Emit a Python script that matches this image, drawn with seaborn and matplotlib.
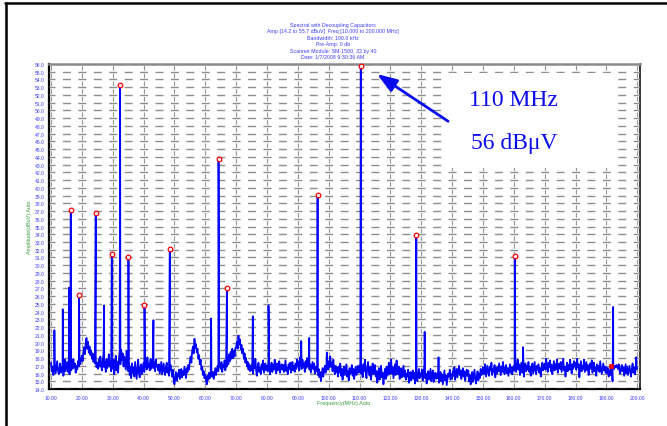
import numpy as np
import pandas as pd
import matplotlib
matplotlib.use("Agg")
import matplotlib.pyplot as plt
import seaborn as sns
from matplotlib.patches import Rectangle
from matplotlib.lines import Line2D

# ---------------- data ----------------
title_lines = [
    "Spectral with Decoupling Capacitors",
    "Amp [14.2 to 55.7 dBuV]  Freq [10.000 to 200.000 MHz]",
    "Bandwidth: 100.0 kHz",
    "Pre-Amp: 0 db",
    "Scanner Module: SM-1500, 32 by 40",
    "Date: 1/7/2008 9:30:36 AM",
]
x_label = "Frequency(MHz) Auto"
y_label = "Amplitude(dBuV) Auto"
x_ticks = list(range(10, 201, 10))
y_ticks = list(range(14, 57))
note_lines = ["110 MHz", "56 dB\u03bcV"]

freq_start = 10.0
freq_step = 0.25
noise_db = [
    17.4, 16.3, 16.9, 15.8, 16.6, 17.2, 16.0, 16.8, 17.6, 16.4, 15.9, 16.7, 17.3, 16.1, 16.5, 17.0, 15.7, 16.6, 17.8, 16.3,
    16.9, 17.5, 16.2, 16.8, 15.9, 17.1, 16.4, 17.7, 16.6, 17.9, 16.8, 17.3, 16.1, 17.0, 16.5, 17.6, 16.9, 18.0, 17.2, 17.7,
    18.3, 17.6, 18.8, 19.4, 18.5, 19.9, 20.6, 19.2, 20.1, 18.7, 19.5, 18.4, 19.0, 17.9, 18.6, 17.5, 18.2, 17.3, 17.9, 16.8,
    17.4, 16.6, 17.8, 16.9, 18.2, 17.1, 16.4, 17.7, 18.4, 16.8, 17.5, 16.2, 17.9, 16.7, 17.3, 18.5, 16.9, 17.6, 16.3, 17.2,
    16.6, 17.8, 15.9, 17.0, 18.3, 16.4, 17.5, 16.1, 17.9, 18.8, 17.2, 19.1, 17.8, 18.6, 16.9, 18.2, 17.4, 16.5, 18.9, 17.1,
    16.3, 17.6, 15.8, 16.9, 15.4, 17.3, 16.1, 16.8, 15.6, 17.5, 16.4, 15.3, 16.7, 17.8, 16.0, 15.5, 16.9, 17.2, 15.9, 16.6,
    17.4, 16.2, 16.9, 17.7, 16.5, 18.1, 16.8, 17.3, 16.4, 17.9, 16.6, 17.2, 18.2, 16.7, 17.5, 16.3, 17.8, 16.9, 17.1, 16.4,
    17.2, 16.0, 16.8, 17.5, 15.9, 16.6, 17.3, 16.2, 15.8, 16.9, 17.4, 16.1, 16.7, 15.7, 16.4, 17.1, 16.3, 15.6, 16.5, 15.2,
    14.6, 15.4, 16.2, 15.1, 16.0, 15.6, 16.5, 15.3, 15.9, 16.6, 15.5, 16.3, 15.8, 16.9, 16.1, 15.4, 16.7, 16.2, 17.1, 16.5,
    17.6, 18.2, 17.4, 18.9, 19.5, 18.6, 20.5, 19.3, 19.8, 18.7, 19.2, 17.9, 18.4, 17.2, 17.8, 16.5, 16.9, 15.8, 16.3, 15.4,
    15.9, 15.0, 14.6, 15.7, 15.2, 16.1, 15.4, 15.9, 16.4, 15.6, 16.2, 15.3, 16.0, 16.7, 15.8, 16.5, 17.0, 16.3, 16.9, 17.4,
    16.6, 17.5, 16.2, 17.1, 16.8, 17.7, 16.4, 17.3, 16.9, 18.1, 17.2, 18.5, 17.6, 18.8, 17.9, 19.2, 18.0, 18.9, 18.2, 19.3,
    19.4, 20.1, 19.2, 20.9, 19.8, 20.4, 19.1, 19.7, 18.6, 19.2, 17.9, 18.6, 17.4, 18.0, 16.9, 17.5, 16.5, 17.2, 16.3, 17.0,
    16.4, 17.6, 16.0, 17.1, 16.7, 17.9, 16.3, 15.7, 16.9, 17.4, 16.2, 16.8, 15.9, 17.2, 16.5, 17.7, 16.1, 16.9, 17.3, 16.4,
    17.0, 16.3, 17.5, 16.6, 15.9, 16.8, 17.4, 16.2, 17.1, 16.5, 17.8, 16.7, 16.0, 17.3, 16.4, 16.9, 17.6, 16.1, 16.8, 17.2,
    16.5, 17.1, 16.2, 16.9, 17.7, 16.3, 16.8, 15.9, 17.2, 16.6, 17.4, 16.1, 16.7, 17.5, 16.4, 17.0, 16.2, 17.3, 16.6, 17.8,
    16.9, 17.5, 16.4, 18.1, 17.0, 16.6, 17.8, 16.8, 17.3, 16.2, 17.6, 16.7, 18.0, 16.9, 17.4, 16.5, 17.2, 16.1, 16.8, 17.5,
    16.6, 17.3, 16.0, 16.9, 16.3, 17.1, 15.8, 16.6, 15.5, 16.2, 15.0, 15.9, 16.7, 15.6, 16.4, 17.0, 16.1, 16.8, 17.4, 16.5,
    17.6, 16.8, 18.2, 16.9, 17.4, 16.3, 17.8, 16.5, 15.9, 17.0, 16.2, 16.8, 15.6, 16.9, 16.1, 17.3, 15.7, 16.6, 15.2, 16.4,
    16.9, 15.8, 16.5, 17.2, 15.6, 16.3, 15.1, 16.7, 15.9, 16.4, 17.1, 15.7, 16.6, 15.3, 16.2, 16.9, 15.8, 16.5, 17.0, 16.1,
    16.6, 17.4, 16.0, 16.9, 15.5, 17.2, 16.3, 17.8, 16.1, 15.4, 16.8, 17.5, 16.2, 15.7, 16.9, 15.2, 16.5, 17.3, 15.9, 16.4,
    17.1, 15.6, 16.3, 14.8, 15.9, 16.7, 15.2, 16.4, 17.0, 15.5, 16.1, 14.6, 15.8, 16.6, 15.3, 16.9, 15.7, 16.2, 17.4, 15.9,
    16.5, 17.8, 16.0, 16.8, 15.4, 16.3, 17.2, 15.8, 17.7, 16.4, 15.9, 16.9, 15.3, 16.1, 16.7, 15.5, 16.2, 17.0, 15.6, 16.4,
    15.2, 16.0, 15.6, 16.5, 14.8, 15.7, 16.2, 15.1, 15.9, 16.4, 15.3, 16.1, 14.7, 15.5, 16.3, 15.0, 15.8, 16.6, 15.4, 16.0,
    15.7, 16.5, 15.1, 16.2, 17.0, 15.4, 16.0, 14.7, 15.6, 16.3, 15.2, 15.9, 16.6, 15.0, 15.8, 16.4, 14.9, 15.7, 16.1, 15.3,
    16.0, 15.4, 16.3, 14.8, 15.6, 16.2, 15.0, 15.9, 14.6, 15.5, 16.4, 15.1, 15.8, 14.5, 15.3, 16.0, 15.6, 16.5, 15.2, 15.9,
    15.4, 16.3, 15.7, 16.8, 15.2, 16.0, 16.6, 15.5, 16.2, 17.0, 15.8, 16.4, 15.3, 16.1, 16.7, 15.6, 16.3, 15.1, 15.9, 16.5,
    15.7, 16.4, 15.0, 15.8, 14.6, 15.5, 16.2, 14.9, 15.7, 16.5, 15.3, 14.7, 15.6, 16.3, 15.1, 16.0, 15.4, 16.6, 15.8, 16.2,
    16.8, 15.9, 16.5, 17.2, 15.6, 16.3, 17.0, 16.1, 15.7, 16.9, 16.4, 17.4, 15.8, 16.6, 16.2, 17.1, 15.5, 16.7, 16.0, 16.9,
    16.3, 17.3, 16.6, 15.8, 16.9, 16.2, 17.5, 16.4, 15.9, 16.8, 17.1, 16.0, 16.7, 15.7, 16.5, 17.2, 16.1, 16.8, 15.9, 16.6,
    17.0, 16.4, 17.6, 16.2, 16.9, 17.8, 16.5, 17.2, 15.8, 16.7, 17.4, 16.1, 16.8, 15.6, 16.6, 17.3, 16.3, 17.0, 16.5, 17.5,
    16.2, 16.9, 15.7, 16.6, 17.3, 16.0, 16.8, 17.5, 16.3, 15.9, 17.0, 16.5, 17.2, 16.1, 16.7, 15.6, 16.9, 17.4, 16.4, 16.8,
    17.3, 16.5, 17.9, 16.7, 16.2, 17.4, 16.8, 17.7, 16.3, 17.1, 15.9, 16.9, 17.6, 16.4, 17.2, 16.6, 17.8, 16.1, 16.8, 17.3,
    16.6, 17.5, 16.2, 17.0, 17.9, 16.4, 16.9, 15.6, 16.7, 17.4, 16.3, 17.1, 16.5, 17.8, 16.8, 16.0, 17.2, 16.6, 17.6, 16.9,
    17.4, 16.5, 17.9, 16.8, 17.2, 15.5, 16.7, 17.6, 16.3, 17.0, 16.6, 17.8, 16.2, 16.9, 17.5, 16.4, 17.1, 15.8, 16.8, 17.3,
    16.6, 17.7, 16.1, 16.9, 17.4, 16.3, 16.8, 15.7, 17.2, 16.5, 17.0, 16.2, 17.6, 16.7, 15.9, 16.6, 17.3, 16.4, 16.9, 16.1,
    16.8, 16.0, 16.7, 15.6, 16.4, 15.8, 16.9, 17.0, 15.0, 16.9, 16.6, 17.0, 16.8, 17.1, 16.9, 16.6, 17.2, 16.4, 16.0, 16.7,
    17.1, 16.3, 16.8, 15.7, 16.5, 17.2, 16.0, 16.9, 15.8, 16.4, 17.0, 16.2, 15.6, 16.6, 17.3, 16.1, 16.8, 15.9, 16.5, 17.0,
    16.6,
]

# spurs (narrow emission lines)
peak_freq = [11.1, 13.8, 15.9, 16.4, 19.1, 24.5, 27.2, 29.7, 32.4, 35.1, 40.3, 43.2, 48.5,
             61.9, 64.3, 67.0, 75.4, 80.5, 91.1, 93.7, 96.4, 99.4, 110.4, 128.4, 131.1,
             135.6, 160.3, 163.0, 192.2, 199.7]
peak_db = [21.6, 24.3, 27.1, 37.1, 26.2, 36.8, 24.8, 31.4, 53.3, 31.0, 24.9, 22.9, 32.1,
           23.1, 43.7, 27.1, 23.4, 24.8, 20.2, 20.6, 39.1, 18.7, 55.8, 33.9, 21.4,
           18.1, 31.2, 19.4, 24.6, 18.1]

# marked peaks (red circles)
marker_freq = [16.4, 19.1, 24.5, 29.7, 32.4, 35.1, 40.3, 48.5, 64.3, 67.0, 96.4, 110.4, 128.4, 160.3]
marker_db = [37.1, 26.2, 36.8, 31.4, 53.3, 31.0, 24.9, 32.1, 43.7, 27.1, 39.1, 55.8, 33.9, 31.2]

cursor_freq = [191.6]
cursor_db = [17.0]

# ---------------- build trace ----------------
noise_freq = freq_start + freq_step * np.arange(len(noise_db))
trace = pd.DataFrame({
    "freq": np.concatenate([noise_freq, peak_freq]),
    "db": np.concatenate([noise_db, peak_db]),
}).sort_values("freq").reset_index(drop=True)

# ---------------- style ----------------
sns.set_style("white")
plt.rcParams["font.family"] = ["Liberation Sans", "DejaVu Sans"]
plt.rcParams["lines.scale_dashes"] = False

W, H, DPI = 667, 427, 100
pt = 72.0 / DPI
fig = plt.figure(figsize=(W / DPI, H / DPI), dpi=DPI)
fig.patch.set_facecolor("white")

ax_l, ax_r, ax_t, ax_b = 49, 640, 65, 390
ax = fig.add_axes([ax_l / W, 1 - ax_b / H, (ax_r - ax_l) / W, (ax_b - ax_t) / H])
x0, x1 = 9.35, 200.9
y0, y1 = 14, 56
ax.set_xlim(x0, x1)
ax.set_ylim(y0, y1)
ax.set_facecolor("white")

px_per_mhz = (ax_r - ax_l) / (x1 - x0)
px_per_db = (ax_b - ax_t) / (y1 - y0)

grid_color = "#8e8e8e"
# horizontal dashed grid: dashes centred on every 5 MHz
h_on = 8.0
h_period = 5 * px_per_mhz
h_off = h_period - h_on
first_center = (x_ticks[0] - x0) * px_per_mhz
h_offset = (-(first_center - h_on / 2)) % h_period
for y in y_ticks[:-1]:
    ax.plot([x0, x1], [y, y], color=grid_color, lw=1.4 * pt,
            ls=(h_offset * pt, (h_on * pt, h_off * pt)), zorder=3)
# vertical dashed grid: short stems between the dB lines
v_on = 4.6
v_off = px_per_db - v_on
v_offset = (v_on / 2 - px_per_db / 2) % px_per_db
for x in x_ticks:
    ax.plot([x, x], [y0, y1], color="#9a9a9a", lw=1.2 * pt,
            ls=(v_offset * pt, (v_on * pt, v_off * pt)), zorder=3)

# white box behind annotation
ax.add_patch(Rectangle((137.0, 42.6), 54.8, 12.2, facecolor="white",
                       edgecolor="none", zorder=3.5))

# trace
sns.lineplot(data=trace, x="freq", y="db", color="#0000ff", linewidth=1.25,
             estimator=None, sort=False, ax=ax, zorder=4, legend=False)
sns.scatterplot(x=marker_freq, y=marker_db, marker="o", s=11, color="white",
                edgecolor="#ff0000", linewidth=0.9, zorder=5, ax=ax, clip_on=False)
sns.scatterplot(x=cursor_freq, y=cursor_db, marker="s", s=9, color="#ff0000",
                edgecolor="#ff0000", linewidth=0.5, zorder=5, ax=ax)

# axes appearance
for side in ["left", "bottom", "right"]:
    ax.spines[side].set_color("black")
ax.spines["left"].set_linewidth(1.6)
ax.spines["bottom"].set_linewidth(1.6)
ax.spines["right"].set_linewidth(1.1)
ax.spines["top"].set_color("#8a8a8a")
ax.spines["top"].set_linewidth(1.8)
for s in ax.spines.values():
    s.set_zorder(2.5)

tick_color = "#3b3bff"
ax.set_xticks(x_ticks)
ax.set_xticklabels([f"{v:.2f}" for v in x_ticks])
ax.set_yticks(y_ticks)
ax.set_yticklabels([f"{v:.1f}" for v in y_ticks])
ax.tick_params(axis="y", direction="inout", length=5, width=0.8, color="#7a7a7a",
               labelsize=3.6, labelcolor=tick_color, pad=0.8)
ax.tick_params(axis="x", direction="inout", length=4, width=0.8, color="#7a7a7a",
               labelsize=3.6, labelcolor=tick_color, pad=2.2)
ax.set_xlabel("")
ax.set_ylabel("")

green = "#3c9c3c"
fig.text(344 / W, 1 - 404 / H, x_label, fontsize=3.9, color=green, ha="center", va="center")
fig.text(29.5 / W, 1 - 227 / H, y_label, fontsize=3.9, color=green, ha="center",
         va="center", rotation=90)

title_y = [25, 31.5, 38, 44.5, 51, 57.5]
for line, yy in zip(title_lines, title_y):
    fig.text(333 / W, 1 - yy / H, line, fontsize=3.8, color="#3c3cff",
             ha="center", va="center")

# annotation
ax.annotate("", xy=(115.65, 54.7), xytext=(138.7, 48.6),
            arrowprops=dict(arrowstyle="-|>,head_length=1.2,head_width=0.42",
                            mutation_scale=10, color="#0a0aef", lw=2.0,
                            shrinkA=0, shrinkB=0), zorder=6)
ax.text(159.9, 50.7, note_lines[0], family="Liberation Serif", fontsize=17,
        color="#0a0aef", ha="center", va="baseline", zorder=6)
ax.text(160.3, 45.14, note_lines[1], family="Liberation Serif", fontsize=17,
        color="#0a0aef", ha="center", va="baseline", zorder=6)

# outer frame (top and left edges visible)
fig.add_artist(Line2D([5 / W, 1.02], [1 - 4 / H, 1 - 4 / H], transform=fig.transFigure,
                      color="black", lw=1.8))
fig.add_artist(Line2D([6.3 / W, 6.3 / W], [1 - 4 / H, -0.02], transform=fig.transFigure,
                      color="black", lw=1.8))

fig.savefig("out.png", dpi=DPI)
